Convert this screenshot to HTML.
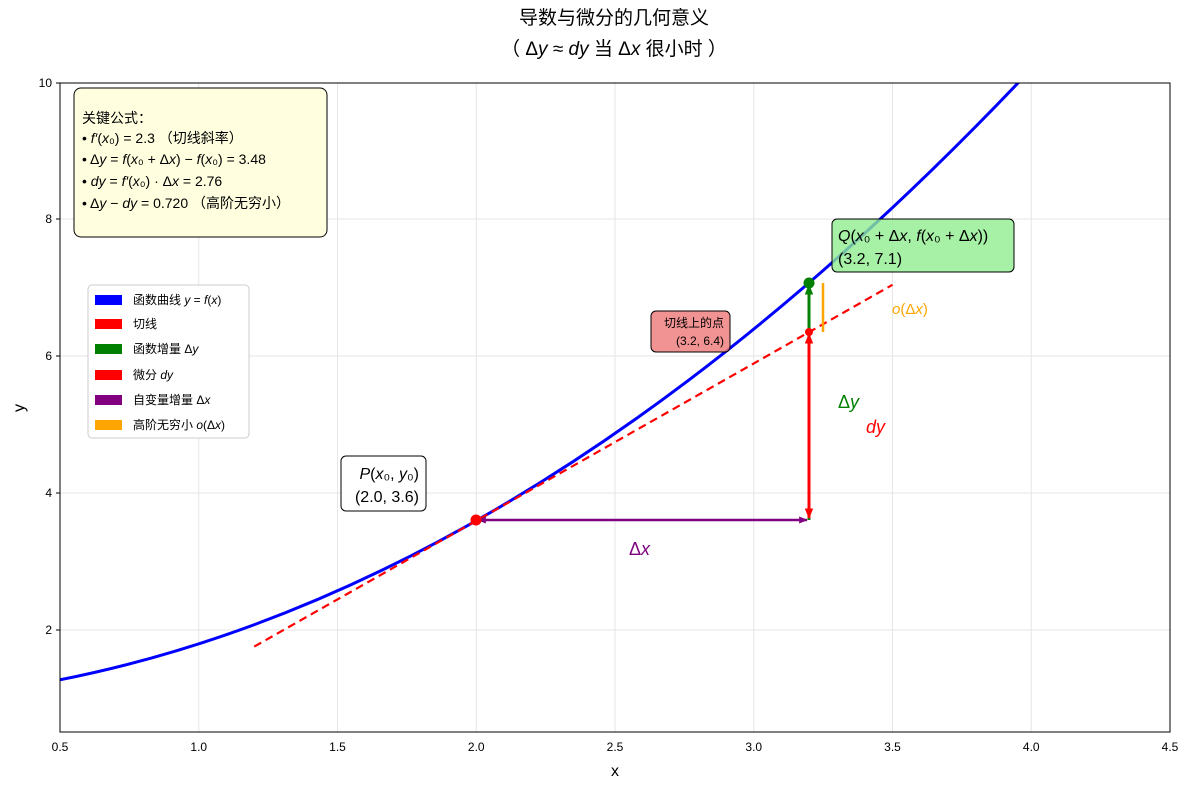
<!DOCTYPE html>
<html><head><meta charset="utf-8"><style>
body{margin:0;background:#fff}
svg{display:block;font-family:"Liberation Sans","DejaVu Sans","Noto Sans CJK SC",sans-serif}
.it{font-style:italic}
</style></head><body>
<svg width="1189" height="789" viewBox="0 0 1189 789" xmlns="http://www.w3.org/2000/svg">
<defs>
<clipPath id="c"><rect x="60" y="83" width="1110" height="649"/></clipPath>
<marker id="ap" viewBox="0 0 10 10" refX="9" refY="5" markerWidth="3.5" markerHeight="3.5" orient="auto-start-reverse"><path d="M0,1 L10,5 L0,9 z" fill="purple"/></marker>
<marker id="ag" viewBox="0 0 10 10" refX="9" refY="5" markerWidth="3.5" markerHeight="3.5" orient="auto-start-reverse"><path d="M0,1 L10,5 L0,9 z" fill="green"/></marker>
<marker id="ar" viewBox="0 0 10 10" refX="9" refY="5" markerWidth="3.5" markerHeight="3.5" orient="auto-start-reverse"><path d="M0,1 L10,5 L0,9 z" fill="red"/></marker>
</defs>
<text x="614" y="24" font-size="19" text-anchor="middle">导数与微分的几何意义</text>
<text x="614" y="55" font-size="19" text-anchor="middle">（ Δ<tspan class="it">y</tspan> ≈ <tspan class="it">dy</tspan> 当 Δ<tspan class="it">x</tspan> 很小时 ）</text>
<g stroke="#e6e6e6" stroke-width="1">
<line x1="60" y1="630" x2="1170" y2="630"/><line x1="60" y1="493" x2="1170" y2="493"/><line x1="60" y1="356" x2="1170" y2="356"/><line x1="60" y1="219" x2="1170" y2="219"/>
<line x1="198.75" y1="83" x2="198.75" y2="732"/><line x1="337.5" y1="83" x2="337.5" y2="732"/><line x1="476.25" y1="83" x2="476.25" y2="732"/><line x1="615" y1="83" x2="615" y2="732"/><line x1="753.75" y1="83" x2="753.75" y2="732"/><line x1="892.5" y1="83" x2="892.5" y2="732"/><line x1="1031.25" y1="83" x2="1031.25" y2="732"/>
</g>
<g clip-path="url(#c)">
<path d="M60,679.8 Q539.1,585.3 1018,83 L1030,70" fill="none" stroke="blue" stroke-width="3"/>
<line x1="254.25" y1="646.6" x2="892.5" y2="284.8" stroke="red" stroke-width="2.2" stroke-dasharray="8,5"/>
</g>
<line x1="478" y1="520" x2="807" y2="520" stroke="purple" stroke-width="2.5" marker-start="url(#ap)" marker-end="url(#ap)"/>
<line x1="809" y1="520" x2="809" y2="285" stroke="green" stroke-width="3" marker-end="url(#ag)"/>
<line x1="809" y1="518" x2="809" y2="334" stroke="red" stroke-width="3" marker-start="url(#ar)" marker-end="url(#ar)"/>
<line x1="823" y1="283" x2="823" y2="332" stroke="orange" stroke-width="2.5"/>
<circle cx="476" cy="520" r="5.5" fill="red"/>
<circle cx="809" cy="283" r="5.5" fill="green"/>
<circle cx="809" cy="332" r="4" fill="red"/>
<rect x="60" y="83" width="1110" height="649" fill="none" stroke="#000" stroke-width="1"/>
<g font-size="12" text-anchor="middle">
<text x="60" y="751">0.5</text><text x="198.75" y="751">1.0</text><text x="337.5" y="751">1.5</text><text x="476.25" y="751">2.0</text><text x="615" y="751">2.5</text><text x="753.75" y="751">3.0</text><text x="892.5" y="751">3.5</text><text x="1031.25" y="751">4.0</text><text x="1170" y="751">4.5</text>
</g>
<g font-size="12" text-anchor="end">
<text x="52" y="634">2</text><text x="52" y="497">4</text><text x="52" y="360">6</text><text x="52" y="223">8</text><text x="52" y="87">10</text>
</g>
<g stroke="#000"><line x1="56" y1="630" x2="60" y2="630"/><line x1="56" y1="493" x2="60" y2="493"/><line x1="56" y1="356" x2="60" y2="356"/><line x1="56" y1="219" x2="60" y2="219"/><line x1="56" y1="83" x2="60" y2="83"/></g>
<text x="615" y="776" font-size="16" text-anchor="middle">x</text>
<text x="24" y="408" font-size="16" text-anchor="middle" transform="rotate(-90 24 408)">y</text>
<rect x="74" y="88" width="253" height="149" rx="7" fill="#ffffe0" stroke="#000"/>
<g font-size="14">
<text x="82" y="123">关键公式：</text>
<text x="82" y="143">• <tspan class="it">f′</tspan>(<tspan class="it">x</tspan>₀) = 2.3 （切线斜率）</text>
<text x="82" y="164">• Δ<tspan class="it">y</tspan> = <tspan class="it">f</tspan>(<tspan class="it">x</tspan>₀ + Δ<tspan class="it">x</tspan>) − <tspan class="it">f</tspan>(<tspan class="it">x</tspan>₀) = 3.48</text>
<text x="82" y="186">• <tspan class="it">dy</tspan> = <tspan class="it">f′</tspan>(<tspan class="it">x</tspan>₀) · Δ<tspan class="it">x</tspan> = 2.76</text>
<text x="82" y="208">• Δ<tspan class="it">y</tspan> − <tspan class="it">dy</tspan> = 0.720 （高阶无穷小）</text>
</g>
<rect x="88" y="285" width="161" height="153" rx="4" fill="#fff" stroke="#ccc"/>
<g font-size="12">
<rect x="95" y="295" width="27" height="10" fill="blue"/><text x="133" y="304">函数曲线 <tspan class="it">y</tspan> = <tspan class="it">f</tspan>(<tspan class="it">x</tspan>)</text>
<rect x="95" y="319" width="27" height="10" fill="red"/><text x="133" y="328">切线</text>
<rect x="95" y="344" width="27" height="10" fill="green"/><text x="133" y="353">函数增量 Δ<tspan class="it">y</tspan></text>
<rect x="95" y="370" width="27" height="10" fill="red"/><text x="133" y="379">微分 <tspan class="it">dy</tspan></text>
<rect x="95" y="395" width="27" height="10" fill="purple"/><text x="133" y="404">自变量增量 Δ<tspan class="it">x</tspan></text>
<rect x="95" y="420" width="27" height="10" fill="orange"/><text x="133" y="429">高阶无穷小 <tspan class="it">o</tspan>(Δ<tspan class="it">x</tspan>)</text>
</g>
<rect x="341" y="456" width="85" height="55" rx="5" fill="#fff" stroke="#000"/>
<text x="419" y="479" font-size="16" text-anchor="end"><tspan class="it">P</tspan>(<tspan class="it">x</tspan>₀, <tspan class="it">y</tspan>₀)</text>
<text x="419" y="502" font-size="16" text-anchor="end">(2.0, 3.6)</text>
<rect x="832" y="219" width="182" height="53" rx="5" fill="#90ee90" fill-opacity="0.8" stroke="#000"/>
<text x="838" y="241" font-size="16"><tspan class="it">Q</tspan>(<tspan class="it">x</tspan>₀ + Δ<tspan class="it">x</tspan>, <tspan class="it">f</tspan>(<tspan class="it">x</tspan>₀ + Δ<tspan class="it">x</tspan>))</text>
<text x="838" y="264" font-size="16">(3.2, 7.1)</text>
<rect x="651" y="311" width="79" height="41" rx="5" fill="#f08080" fill-opacity="0.85" stroke="#000"/>
<text x="724" y="327" font-size="12" text-anchor="end">切线上的点</text>
<text x="724" y="345" font-size="12" text-anchor="end">(3.2, 6.4)</text>
<text x="838" y="408" font-size="18" fill="green">Δ<tspan class="it">y</tspan></text>
<text x="866" y="433" font-size="18" fill="red" class="it">dy</text>
<text x="892" y="314" font-size="15" fill="orange"><tspan class="it">o</tspan>(Δ<tspan class="it">x</tspan>)</text>
<text x="629" y="555" font-size="18" fill="purple">Δ<tspan class="it">x</tspan></text>
</svg>
</body></html>
